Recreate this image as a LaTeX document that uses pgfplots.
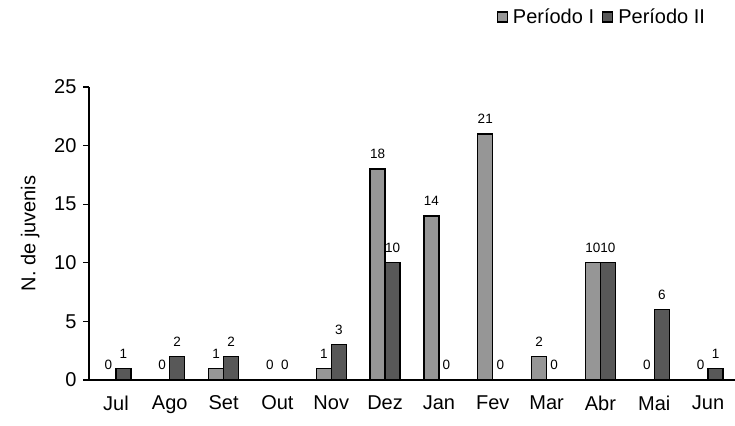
\documentclass[border=0pt]{standalone}
\usepackage{fontspec}
\setmainfont{Liberation Sans}
\usepackage{pgfplots}
\pgfplotsset{compat=1.18}

\definecolor{perI}{RGB}{150,150,150}
\definecolor{perII}{RGB}{88,88,88}

\begin{document}
\begin{tikzpicture}
\begin{axis}[
    name=ax,
    scale only axis,
    width=646pt, height=293pt,
    ybar=0pt,
    bar width=15pt,
    xmin=-0.5, xmax=11.5,
    ymin=0, ymax=25,
    axis x line*=bottom,
    axis y line*=left,
    axis line style={line width=1.3pt, -},
    xtick={0,...,11},
    xticklabels={Jul,Ago,Set,Out,Nov,Dez,Jan,Fev,Mar,Abr,Mai,Jun},
    major x tick style={draw=none},
    extra x ticks={-0.5,0.5,...,11.5},
    extra x tick labels={},
    extra x tick style={major tick length=7pt, tick align=outside, major tick style={line width=1.3pt, black, draw=black}},
    ytick={0,5,...,25},
    tick align=outside,
    major tick length=6pt,
    tick style={line width=1.3pt, black},
    xticklabel style={font=\fontsize{20}{22}\selectfont, yshift=-6pt},
    yticklabel style={font=\fontsize{20}{22}\selectfont, xshift=-3pt},
    /pgf/number format/assume math mode=true,
    ylabel={N. de juvenis},
    ylabel style={font=\fontsize{20}{22}\selectfont, at={(axis description cs:-0.091,0.5)}, anchor=center},
    clip=false,
    nodes near coords,
    nodes near coords style={font=\fontsize{13.5}{15}\selectfont, black, yshift=6pt, inner xsep=0pt},
    legend columns=2,
    legend style={draw=none, fill=none, inner sep=0pt, at={(axis description cs:0.957,1.239)}, anchor=east,
        font=\fontsize{20}{22}\selectfont,
        /tikz/every even column/.append style={column sep=6pt},
        /tikz/every odd column/.append style={column sep=3pt}},
    legend cell align=left,
    legend image code/.code={\draw[#1, line width=1.2pt] (0pt,-5pt) rectangle (10pt,5pt);},
]
\addplot[fill=perI, draw=black, line width=1.3pt] coordinates {
    (0,0) (1,0) (2,1) (3,0) (4,1) (5,18) (6,14) (7,21) (8,2) (9,10) (10,0) (11,0)};
\addplot[fill=perII, draw=black, line width=1.3pt] coordinates {
    (0,1) (1,2) (2,2) (3,0) (4,3) (5,10) (6,0) (7,0) (8,0) (9,10) (10,6) (11,1)};
\legend{Período I, Período II}
\end{axis}
\pgfresetboundingbox
\path[use as bounding box] ([shift={(-89pt,-45pt)}]ax.south west) rectangle ([shift={(0pt,87pt)}]ax.north east);
\end{tikzpicture}
\end{document}
